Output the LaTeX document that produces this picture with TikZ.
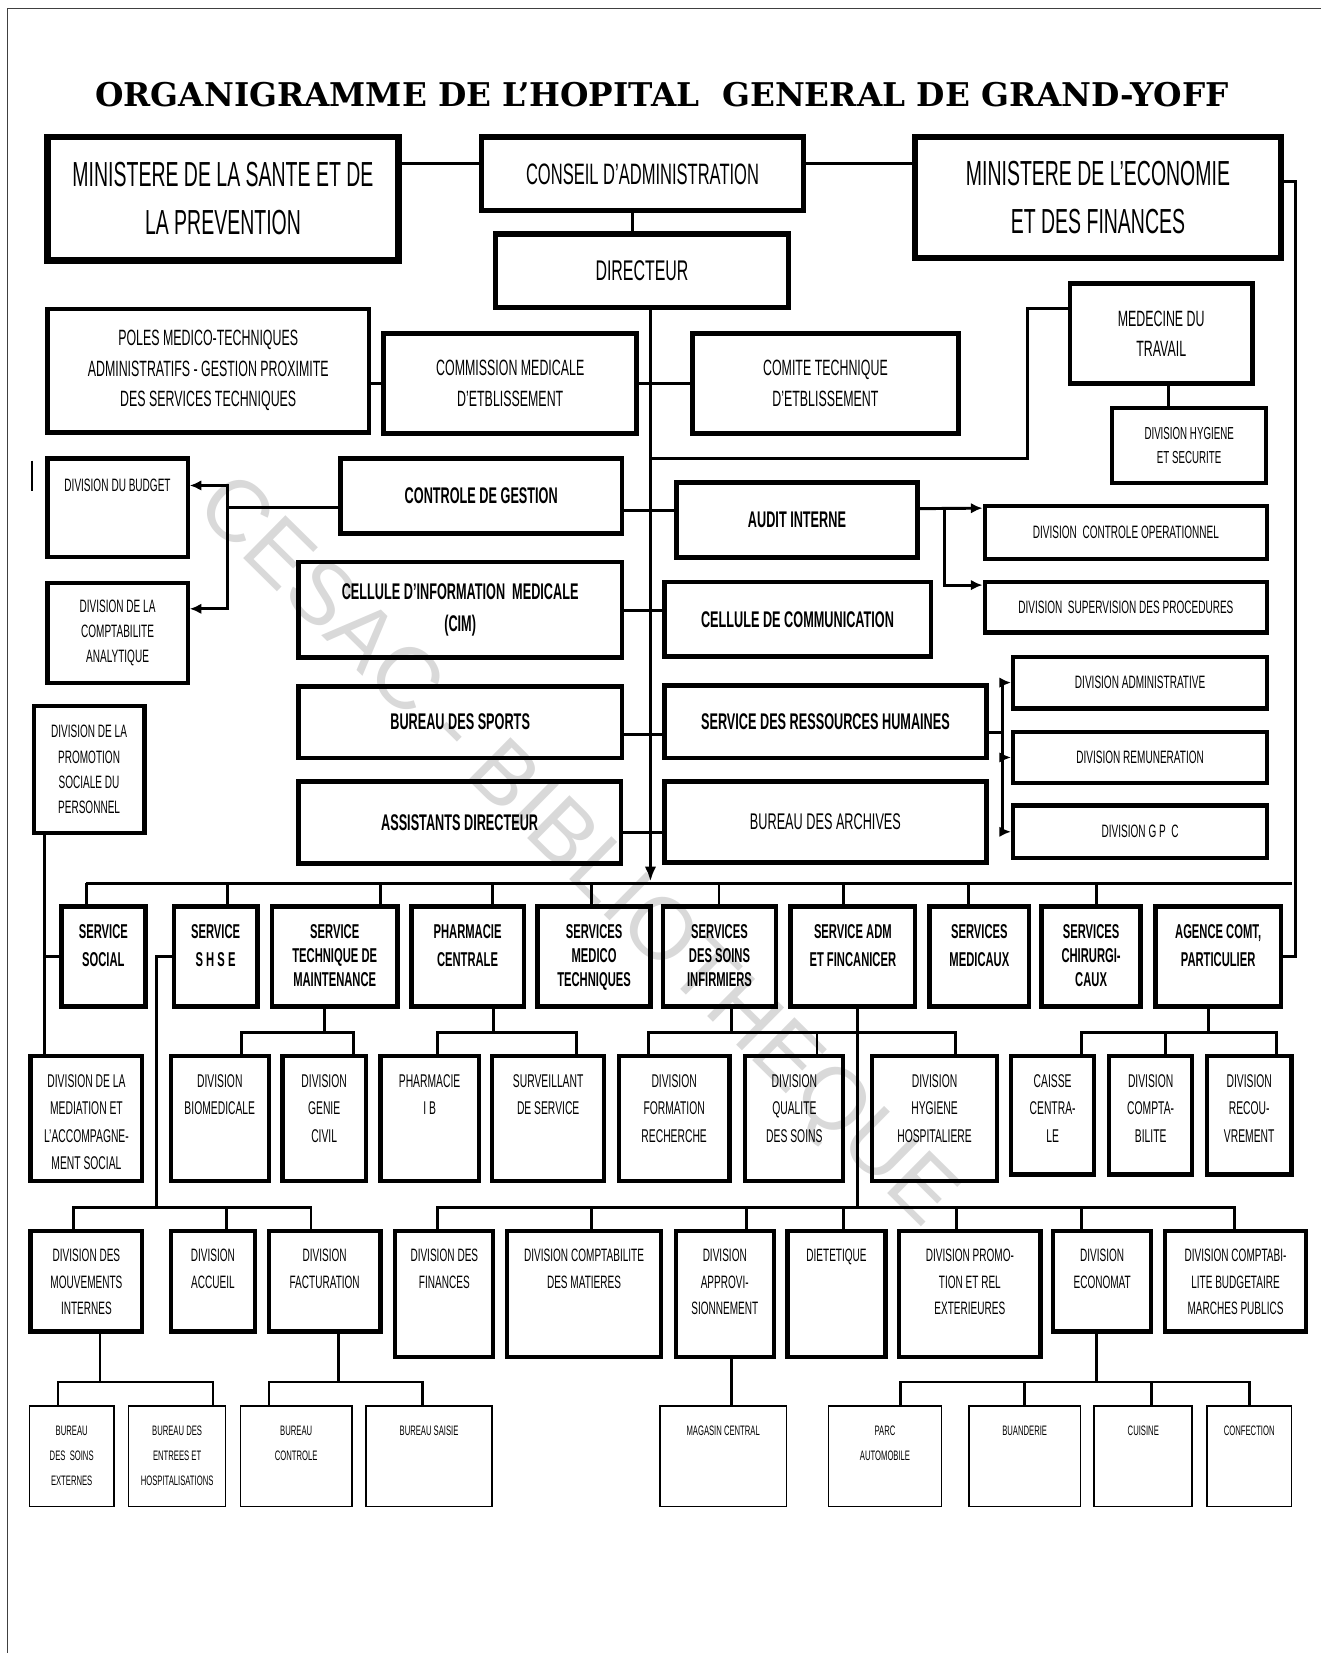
\documentclass[tikz,border=0pt]{standalone}
\usepackage{fontspec}
\setmainfont{Liberation Sans}[FakeStretch=0.56]
\newfontfamily\titlefont{DejaVu Serif}
\newfontfamily\wmfont{Liberation Sans}
\usetikzlibrary{arrows.meta,positioning}
\tikzset{
  spot/.style n args={4}{at={({(#1+#3)/2},{(#2+#4)/2})},
    minimum width={(#3)-(#1)}, minimum height={(#4)-(#2)}},
  box/.style={draw, inner sep=0pt, align=center, line width=4pt},
  topbox/.style={box, line width=6pt, font=\fontsize{33}{45}\selectfont},
  midbox/.style={box, line width=4.5pt, font=\fontsize{21}{29}\selectfont},
  hdbox/.style={box, line width=4.5pt, font=\bfseries\fontsize{21.5}{31}\selectfont},
  divbox/.style={box, line width=4pt, font=\fontsize{17}{24}\selectfont},
  rowA/.style={box, line width=4.5pt},
  rowB/.style={box, line width=4pt},
  rowD/.style={box, line width=1.6pt},
  txtA/.style={align=center, inner sep=0pt, font=\bfseries\fontsize{19}{23}\selectfont},
  txtB/.style={align=center, inner sep=0pt, font=\fontsize{17.5}{26}\selectfont},
  txtC/.style={align=center, inner sep=0pt, font=\fontsize{17}{25}\selectfont},
  txtD/.style={align=center, inner sep=0pt, font=\fontsize{13}{24}\selectfont},
  conn/.style={line width=2.8pt},
  arr/.style={-{Latex[length=11pt,width=10pt]}},
  ttl/.style={font=\titlefont\bfseries\fontsize{31}{31}\selectfont},
  wmark/.style={text=black!15, font=\wmfont\fontsize{83}{83}\selectfont},
}

\begin{document}
\begin{tikzpicture}[x=1pt,y=-1pt]
\useasboundingbox (0,0) rectangle (1253,1568);
\draw[line width=1.6pt,black!75] (7,1568) -- (7,8) -- (1253,8);
\node[wmark, rotate=-44.6] (wm) at (545,810) {CESAC - BIBLIOTHEQUE};

\node[ttl] (title) at (628,90) {ORGANIGRAMME DE L’HOPITAL\ \ GENERAL DE GRAND-YOFF};

% tutelle et direction
\node[topbox, spot={45}{130}{378}{247}] (msante) {MINISTERE DE LA SANTE ET DE\\LA PREVENTION};
\node[topbox, line width=5pt, font=\fontsize{28}{34}\selectfont, spot={457}{130}{762}{200}] (conseil) {CONSEIL D’ADMINISTRATION};
\node[topbox, spot={868}{130}{1215}{245}] (mecon) {MINISTERE DE L’ECONOMIE\\ET DES FINANCES};
\node[topbox, line width=5pt, font=\fontsize{27}{34}\selectfont, spot={470}{222}{748}{292}] (dir) {DIRECTEUR};

\node[midbox, spot={45}{293}{350}{410}] (poles) {POLES MEDICO-TECHNIQUES\\ADMINISTRATIFS - GESTION PROXIMITE\\DES SERVICES TECHNIQUES};
\node[midbox, font=\fontsize{21}{30}\selectfont, spot={364}{316}{604}{411}] (cme) {COMMISSION MEDICALE\\D'ETBLISSEMENT};
\node[midbox, font=\fontsize{21}{30}\selectfont, spot={657}{316}{909}{411}] (cte) {COMITE TECHNIQUE\\D'ETBLISSEMENT};
\node[midbox, spot={1015}{269}{1188}{364}] (medtrav) {MEDECINE DU\\TRAVAIL};
\node[divbox, font=\fontsize{16.5}{23}\selectfont, spot={1055}{387}{1201}{458}] (dhs) {DIVISION HYGIENE\\ET SECURITE};

% cote gauche
\node[rowB, spot={45}{435}{178}{528}] (budget) {};
\node[txtC, below=21pt of budget.north] (budget-t) {DIVISION\,DU BUDGET};
\node[divbox, spot={45}{553}{178}{648}] (analyt) {DIVISION DE LA\\COMPTABILITE\\ANALYTIQUE};
\node[divbox, spot={32}{670}{137}{790}] (promo) {DIVISION DE LA\\PROMOTION\\SOCIALE DU\\PERSONNEL};
\draw[line width=2pt] (30,437) -- (30,466);

\node[hdbox, spot={323}{435}{590}{506}] (cdg) {CONTROLE DE GESTION};
\node[hdbox, spot={283}{533}{590}{624}] (cim) {CELLULE D'INFORMATION\ \ MEDICALE\\(CIM)};
\node[hdbox, spot={283}{651}{590}{719}] (sports) {BUREAU DES SPORTS};
\node[hdbox, spot={283}{741}{589}{819}] (assist) {ASSISTANTS DIRECTEUR};

% cote droit
\node[hdbox, spot={642}{458}{870}{529}] (audit) {AUDIT INTERNE};
\node[hdbox, spot={630}{552}{883}{623}] (ccom) {CELLULE DE COMMUNICATION};
\node[hdbox, spot={630}{650}{936}{719}] (srh) {SERVICE DES RESSOURCES HUMAINES};
\node[midbox, font=\fontsize{21.5}{30}\selectfont, spot={630}{741}{936}{818}] (arch) {BUREAU DES ARCHIVES};
\node[divbox, spot={934}{480}{1202}{530}] (dco) {DIVISION\ \ CONTROLE OPERATIONNEL};
\node[divbox, spot={934}{552}{1202}{600}] (dsp) {DIVISION\ \ SUPERVISION DES PROCEDURES};
\node[divbox, spot={961}{623}{1202}{672}] (dadm) {DIVISION ADMINISTRATIVE};
\node[divbox, spot={961}{694}{1202}{743}] (drem) {DIVISION REMUNERATION};
\node[divbox, spot={961}{764}{1202}{814}] (dgpc) {DIVISION G P\ \ C};

% services
\foreach \n/\xa/\xb/\t in {ssoc/58/138/{SERVICE\\[4pt]SOCIAL}, shse/165/244/{SERVICE\\[4pt]S H S E},
    stm/258/377/{SERVICE\\TECHNIQUE DE\\MAINTENANCE}, pharm/390/497/{PHARMACIE\\[4pt]CENTRALE},
    smt/510/617/{SERVICES\\MEDICO\\TECHNIQUES}, ssi/629/736/{SERVICES\\DES SOINS\\INFIRMIERS},
    saf/750/868/{SERVICE ADM\\[4pt]ET FINCANICER}, smed/882/976/{SERVICES\\[4pt]MEDICAUX},
    schir/988/1082/{SERVICES\\CHIRURGI-\\CAUX}, agence/1096/1215/{AGENCE COMT,\\[4pt]PARTICULIER}}{
  \node[rowA, spot={\xa}{860}{\xb}{955}] (\n) {};
  \node[txtA, below=19pt of \n.north] (\n-t) {\t};
}

% divisions
\foreach \n/\xa/\xb/\yb/\t in {dmed/29/135/1120/{DIVISION DE LA\\MEDIATION ET\\L’ACCOMPAGNE-\\MENT SOCIAL},
    dbio/162/255/1120/{DIVISION\\BIOMEDICALE}, dgc/268/347/1120/{DIVISION\\GENIE\\CIVIL},
    pib/361/454/1120/{PHARMACIE\\I B}, surv/467/573/1120/{SURVEILLANT\\DE SERVICE},
    dform/587/692/1120/{DIVISION\\FORMATION\\RECHERCHE}, dqual/707/800/1120/{DIVISION\\QUALITE\\DES SOINS},
    dhyg/827/946/1120/{DIVISION\\HYGIENE\\HOSPITALIERE}, caisse/959/1038/1114/{CAISSE\\CENTRA-\\LE},
    dcpt/1052/1131/1114/{DIVISION\\COMPTA-\\BILITE}, drec/1145/1225/1114/{DIVISION\\RECOU-\\VREMENT}}{
  \node[rowB, spot={\xa}{1002}{\xb}{\yb}] (\n) {};
  \node[txtB, below=19pt of \n.north] (\n-t) {\t};
}

\foreach \n/\xa/\xb/\yb/\t in {mouv/29/135/1263/{DIVISION DES\\MOUVEMENTS\\INTERNES},
    accueil/162/242/1263/{DIVISION\\ACCUEIL}, fact/255/361/1263/{DIVISION\\FACTURATION},
    dfin/375/468/1287/{DIVISION\,DES\\FINANCES}, dcmat/481/627/1287/{DIVISION\,COMPTABILITE\\DES MATIERES},
    appro/641/734/1287/{DIVISION\\APPROVI-\\SIONNEMENT}, diet/747/840/1287/{DIETETIQUE},
    dpromo/853/987/1287/{DIVISION PROMO-\\TION ET REL\\EXTERIEURES}, econ/999/1092/1263/{DIVISION\\ECONOMAT},
    dbud/1105/1239/1263/{DIVISION COMPTABI-\\LITE BUDGETAIRE\\MARCHES PUBLICS}}{
  \node[rowB, spot={\xa}{1168}{\xb}{\yb}] (\n) {};
  \node[txtC, below=19pt of \n.north] (\n-t) {\t};
}

% bureaux
\foreach \n/\xa/\xb/\t in {bse/28/108/{BUREAU\\DES\ \ SOINS\\EXTERNES}, beh/122/214/{BUREAU DES\\ENTREES ET\\HOSPITALISATIONS},
    bctl/228/334/{BUREAU\\CONTROLE}, bsai/347/467/{BUREAU SAISIE}, mag/626/746/{MAGASIN CENTRAL},
    parc/786/893/{PARC\\AUTOMOBILE}, buan/919/1025/{BUANDERIE}, cuis/1038/1131/{CUISINE},
    conf/1145/1225/{CONFECTION}}{
  \node[rowD, spot={\xa}{1334}{\xb}{1429}] (\n) {};
  \node[txtD, below=19pt of \n.north] (\n-t) {\t};
}

% liaisons
\coordinate (busM) at (617,836);
\coordinate (busL) at (82,838);
\coordinate (busR) at (1226,838);
\coordinate (s0) at (617,364);
\coordinate (s1) at (617,484);
\coordinate (s2) at (617,579);
\coordinate (s3) at (617,697);
\coordinate (s4) at (617,790);
\coordinate (s5) at (617,435);

\draw[conn] (msante.east |- 0,155) -- (conseil.west |- 0,155);
\draw[conn] (conseil.east |- 0,155) -- (mecon.west |- 0,155);
\draw[conn] (conseil.south -| 600,0) -- (dir.north -| 600,0);
\draw[conn, -{Latex[length=14pt,width=11pt]}] (dir.south -| busM) -- (busM);

\draw[conn] (poles.east |- s0) -- (cme.west |- s0);
\draw[conn] (cme.east |- s0) -- (cte.west |- s0);
\foreach \l/\r/\s in {cdg/audit/s1, cim/ccom/s2, sports/srh/s3, assist/arch/s4}
  \draw[conn] (\l.east |- \s) -- (\r.west |- \s);
\draw[conn] ([yshift=24pt]medtrav.west) -- ++(-38,0) |- (s5);
\draw[conn] (medtrav.south -| 1108,0) -- (dhs.north -| 1108,0);

\draw[conn] ([yshift=-11pt]cdg.west) -- ++(-105,0) coordinate (cg);
\draw[conn, arr] (cg) |- ([yshift=21pt]budget.east);
\draw[conn, arr] (cg) |- ([yshift=23pt]analyt.east);

\draw[conn, arr] ([yshift=11pt]audit.east) -- ([yshift=23pt]dco.west);
\draw[conn, arr] ([yshift=11pt]audit.east) ++(24,0) |- ([yshift=21pt]dsp.west);

\draw[conn] ([yshift=-10pt]srh.east) -- ++(13,0) coordinate (rh);
\foreach \d in {dadm, drem, dgpc}
  \draw[conn, arr] (rh) |- (\d.west);

\draw[conn] ([yshift=15pt]mecon.east) -- ++(11,0) |- (agence.east);
\draw[conn] (busL) -- (busR);
\foreach \c/\cx in {ssoc/82, shse/216, stm/361, pharm/467, smt/561, ssi/682, saf/800, smed/919, schir/1040}
  \draw[conn] (busL -| \cx,0) -- (\c.north -| \cx,0);

\draw[conn] (promo.south -| 42,0) -- (dmed.north -| 42,0);
\draw[conn] (ssoc.west) -- (ssoc.west -| 42,0);

\foreach \p/\px/\c/\cx in {stm/308/dbio/229, stm/308/dgc/335, pharm/468/pib/415, pharm/468/surv/547,
    ssi/694/dform/615, ssi/694/dqual/775, ssi/694/dhyg/906,
    agence/1146/caisse/1026, agence/1146/dcpt/1106, agence/1146/drec/1211}
  \draw[conn] (\p.south -| \px,0) -- (\px,979) -| (\c.north -| \cx,0);

\foreach \c/\cx in {mouv/70, accueil/215, fact/295}
  \draw[conn] (shse.west) -| (148,1145) -| (\c.north -| \cx,0);
\foreach \c/\cx in {dfin/415, dcmat/561, appro/708, diet/800, dpromo/907, econ/1026, dbud/1171}
  \draw[conn] (saf.south -| 813,0) -- (813,1145) -| (\c.north -| \cx,0);

\foreach \p/\px/\c/\cx in {mouv/95/bse/55, mouv/95/beh/202, fact/321/bctl/255, fact/321/bsai/401,
    econ/1040/parc/854, econ/1040/buan/972, econ/1040/cuis/1092, econ/1040/conf/1185}
  \draw[conn, line width=2.5pt] (\p.south -| \px,0) -- (\px,1311) -| (\c.north -| \cx,0);
\draw[conn, line width=2.5pt] (appro.south -| 694,0) -- (mag.north -| 694,0);
\end{tikzpicture}
\end{document}
